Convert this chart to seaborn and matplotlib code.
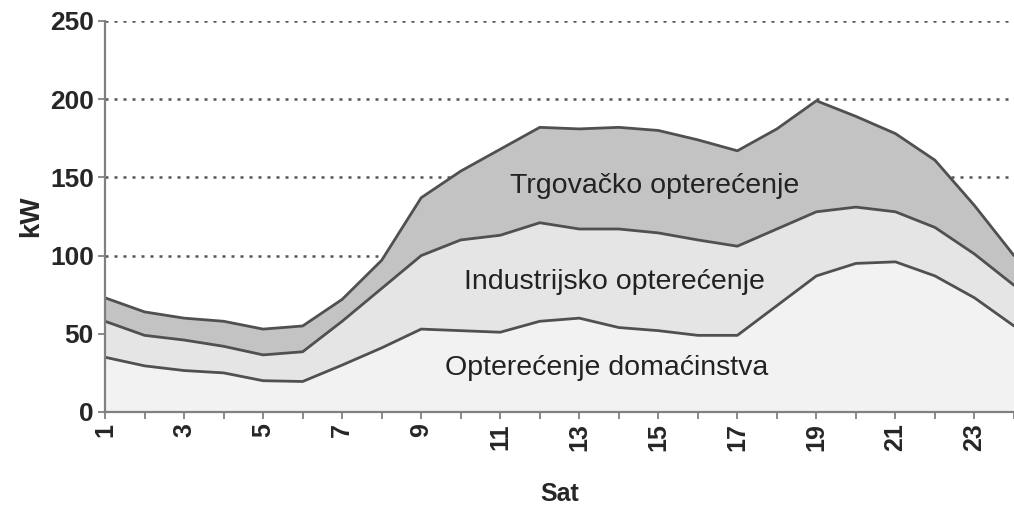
import numpy as np
import pandas as pd
import seaborn as sns
import matplotlib.pyplot as plt

hours = list(range(1, 25))
domacinstvo = [35, 29.5, 26.5, 25, 20, 19.5, 30, 41, 53, 52, 51, 58,
               60, 54, 52, 49, 49, 68, 87, 95, 96, 87, 73, 55]
industrija = [23, 19.5, 19.5, 17, 16.5, 19, 28, 38, 47, 58, 62, 63,
              57, 63, 62.5, 61, 57, 49, 41, 36, 32, 31, 28, 26]
trgovina = [15, 15, 14, 16, 16.5, 16.5, 14, 18, 37, 44, 55, 61,
            64, 65, 65.5, 64, 61, 64, 71, 58, 50, 43, 31, 19]
names = ["Opterećenje domaćinstva", "Industrijsko opterećenje", "Trgovačko opterećenje"]
fills = ["#f2f2f2", "#e5e5e5", "#c3c3c3"]

sns.set_style("white")
plt.rcParams["font.family"] = ["Liberation Sans", "DejaVu Sans"]

layers = np.cumsum([domacinstvo, industrija, trgovina], axis=0)
df = pd.DataFrame({
    "Sat": hours * 3,
    "kW": layers.ravel(),
    "sloj": np.repeat(names, len(hours)),
})

fig = plt.figure(figsize=(10.14, 5.07), dpi=100)
ax = fig.add_axes([0.1036, 0.1874, 0.8964, 0.7712])

lower = np.zeros(len(hours))
for i, name in enumerate(names):
    ax.fill_between(hours, lower, layers[i], color=fills[i], lw=0, zorder=1)
    lower = layers[i]

sns.lineplot(data=df, x="Sat", y="kW", hue="sloj", palette=["#505050"] * 3,
             legend=False, lw=2, ax=ax, zorder=3)

ax.set_xlim(1, 24)
ax.set_ylim(0, 250)
ax.set_yticks([0, 50, 100, 150, 200, 250])
ax.set_xticks(hours)
ax.set_xticklabels([str(h) if h % 2 else "" for h in hours],
                   rotation=90, fontsize=18, fontweight="bold")
for lbl in ax.get_yticklabels():
    lbl.set_fontsize(19)
    lbl.set_fontweight("bold")
ax.tick_params(axis="both", direction="out", length=5, width=1.2,
               color="#777777", bottom=True, left=True, pad=3)
ax.yaxis.grid(True, linestyle=(0, (1.2, 2.4)), lw=1.8, color="#555555", zorder=0)
ax.set_axisbelow(True)

for s in ["top", "right"]:
    ax.spines[s].set_visible(False)
for s in ["left", "bottom"]:
    ax.spines[s].set_color("#808080")
    ax.spines[s].set_linewidth(1.6)
    ax.spines[s].set_zorder(4)

ax.set_xlabel("Sat", fontsize=18, fontweight="bold", labelpad=22)
ax.set_ylabel("kW", fontsize=20, fontweight="bold", labelpad=4)

txt = dict(fontsize=20.5, ha="center", va="center", color="#222222", zorder=5)
ax.text(14.9, 144.5, names[2], **txt)
ax.text(13.9, 83, names[1], **txt)
ax.text(13.7, 28, names[0], **txt)

fig.savefig("out.png", dpi=100)
